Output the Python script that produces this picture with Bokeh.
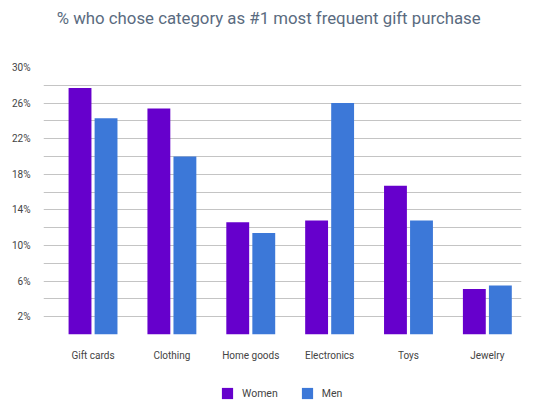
from bokeh.plotting import figure
from bokeh.models import (ColumnDataSource, Range1d, FixedTicker, PrintfTickFormatter,
                          Legend, LegendItem, Label)
from bokeh.layouts import column
from bokeh.transform import dodge
from bokeh.embed import file_html
from bokeh.resources import INLINE

title_text = "% who chose category as #1 most frequent gift purchase"
categories = ["Gift cards", "Clothing", "Home goods", "Electronics", "Toys", "Jewelry"]
women = [27.7, 25.4, 12.6, 12.8, 16.7, 5.1]
men = [24.3, 20.0, 11.4, 26.0, 12.8, 5.5]
series = ["Women", "Men"]
grid_ticks = list(range(0, 31, 2))
label_ticks = [2, 6, 10, 14, 18, 22, 26, 30]

WOMEN_C = "#6600cc"
MEN_C = "#3c78d8"
FONT = "Roboto"


def strip(height, x_range, y_range):
    f = figure(width=540, height=height, output_backend="svg", toolbar_location=None,
               x_range=x_range, y_range=y_range,
               x_axis_type=None, y_axis_type=None, min_border=0)
    f.outline_line_color = None
    f.xgrid.grid_line_color = None
    f.ygrid.grid_line_color = None
    return f


# ---- title strip ----
tt = strip(30, Range1d(0, 540), Range1d(30, 0))
tt.add_layout(Label(x=15, y=17.5, text=title_text, text_font=FONT,
                    text_font_size="16.8px", text_color="#5a6b80",
                    text_baseline="middle", text_align="left"))

# ---- main chart ----
idx = list(range(len(categories)))
src = ColumnDataSource(dict(x=idx, cat=categories, women=women, men=men))

p = figure(width=540, height=335, output_backend="svg", toolbar_location=None,
           x_range=Range1d(-0.628, 5.433), y_range=Range1d(0, 30),
           min_border_left=43, min_border_right=19, min_border_top=37,
           min_border_bottom=31)
p.outline_line_color = None
p.background_fill_color = "white"
p.border_fill_color = "white"

rw = p.vbar(x=dodge("x", -0.165, range=p.x_range), top="women", width=0.29,
            source=src, fill_color=WOMEN_C, line_color=None)
rm = p.vbar(x=dodge("x", 0.165, range=p.x_range), top="men", width=0.29,
            source=src, fill_color=MEN_C, line_color=None)

p.xaxis.ticker = FixedTicker(ticks=idx)
p.xaxis.major_label_overrides = {i: c for i, c in zip(idx, categories)}
p.yaxis.ticker = FixedTicker(ticks=label_ticks)
p.yaxis.formatter = PrintfTickFormatter(format="%d%%")
for ax in (p.xaxis[0], p.yaxis[0]):
    ax.axis_line_color = None
    ax.major_tick_line_color = None
    ax.minor_tick_line_color = None
    ax.major_label_text_font = FONT
    ax.major_label_text_font_size = "10px"
    ax.major_label_text_color = "#444444"
p.xaxis.major_label_standoff = 9
p.yaxis.major_label_standoff = 7

p.xgrid.grid_line_color = None
p.ygrid.ticker = FixedTicker(ticks=grid_ticks)
p.ygrid.grid_line_color = "#c4c4c4"
p.ygrid.grid_line_width = 1

# ---- legend strip (placeholder renderers only provide the swatches) ----
lg = strip(44, Range1d(0, 1), Range1d(0, 1))
nan = float("nan")
lw = lg.vbar(x=[nan], top=[nan], width=0.1, fill_color=WOMEN_C, line_color=None)
lm = lg.vbar(x=[nan], top=[nan], width=0.1, fill_color=MEN_C, line_color=None)
legend = Legend(items=[LegendItem(label=series[0], renderers=[lw]),
                       LegendItem(label=series[1], renderers=[lm])],
                orientation="horizontal", location=(177, 9),
                glyph_width=14, glyph_height=14, label_height=14,
                label_standoff=8, spacing=22, padding=0, margin=0,
                border_line_color=None, background_fill_alpha=0,
                label_text_font=FONT, label_text_font_size="10.5px",
                label_text_color="#444444")
lg.add_layout(legend, "center")

layout = column(tt, p, lg, spacing=0)
open("out.html", "w").write(file_html(layout, INLINE))
